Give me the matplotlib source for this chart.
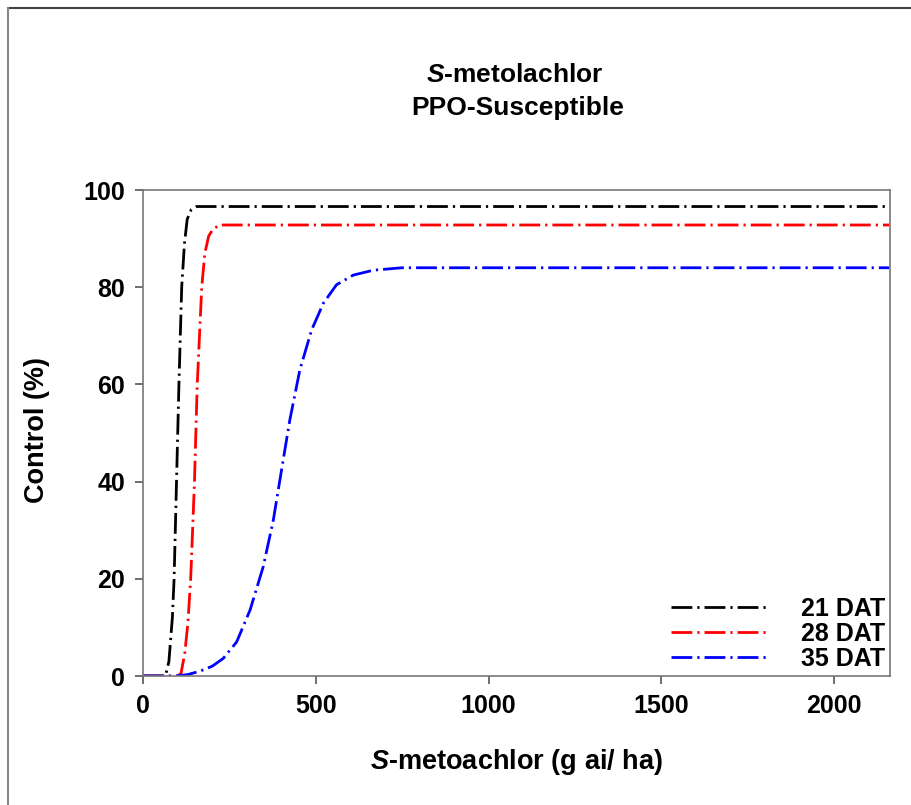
import matplotlib
matplotlib.use("Agg")
import matplotlib.pyplot as plt
from matplotlib.lines import Line2D

plt.rcParams['font.family'] = ['Liberation Sans', 'DejaVu Sans']
plt.rcParams['mathtext.fontset'] = 'custom'
plt.rcParams['mathtext.bfit'] = 'Liberation Sans:italic:bold'

# Data
dose_21 = [0, 65, 75, 85, 90, 97, 104, 112, 120, 128, 140, 155, 2160]
ctrl_21 = [0, 0, 3, 12, 20, 40, 60, 80, 89, 94, 96, 96.6, 96.6]

dose_28 = [0, 100, 110, 121, 130, 138, 149, 157, 170, 179, 190, 203, 223, 2160]
ctrl_28 = [0, 0, 0.5, 4.7, 11, 20, 40, 60, 80, 87, 90.5, 92, 92.8, 92.8]

dose_35 = [0, 93, 130, 165, 200, 232, 271, 310, 348, 377, 401, 425, 454, 488,
           522, 560, 609, 667, 750, 2160]
ctrl_35 = [0, 0, 0.3, 1, 2, 3.6, 7, 13.6, 22.5, 32, 42.4, 52.7, 63, 71.2,
           76.7, 80.5, 82.5, 83.5, 84, 84]

labels = ['21 DAT', '28 DAT', '35 DAT']
colors = ['black', 'red', 'blue']

x_ticks = [0, 500, 1000, 1500, 2000]
y_ticks = [0, 20, 40, 60, 80, 100]

fig = plt.figure(figsize=(9.12, 8.05), dpi=100)
ax = fig.add_axes([143/912, 1-676/805, (890-143)/912, (676-190)/805])

dash = (0, (7.5, 1.8, 0.8, 1.8))
for xs, ys, lab, c in zip([dose_21, dose_28, dose_35], [ctrl_21, ctrl_28, ctrl_35], labels, colors):
    ax.plot(xs, ys, color=c, lw=2.0, linestyle=dash, label=lab)

ax.set_xlim(0, 2162)
ax.set_ylim(0, 100)
ax.set_xticks(x_ticks)
ax.set_yticks(y_ticks)
for s in ax.spines.values():
    s.set_color('#777777')
    s.set_linewidth(1.2)
ax.tick_params(direction='out', length=6, width=1.2, color='#555555',
               labelsize=18, pad=7)
for t in ax.get_xticklabels() + ax.get_yticklabels():
    t.set_fontweight('bold')

fs_lab = 19.5
fig.text(516/912, 1-762/805, r'$\mathbfit{S}$-metoachlor (g ai/ ha)', ha='center', va='center',
         fontsize=fs_lab, fontweight='bold')
fig.text(37/912, 1-430/805, 'Control (%)', ha='center', va='center', rotation=90,
         fontsize=fs_lab, fontweight='bold')

fig.text(515/912, 1-75/805, r'$\mathbfit{S}$-metolachlor', ha='center', va='center',
         fontsize=19, fontweight='bold')
fig.text(518/912, 1-108/805, 'PPO-Susceptible', ha='center', va='center',
         fontsize=19, fontweight='bold')

leg = ax.legend(loc='lower right', frameon=False, fontsize=18, markerfirst=True,
                handlelength=3.9, handletextpad=1.3, labelspacing=0.05,
                borderaxespad=0.2, borderpad=0.0)
for t in leg.get_texts():
    t.set_fontweight('bold')

# figure border
fig.add_artist(Line2D([8/912, 1], [1-8/805, 1-8/805], color='#444444', lw=1.5))
fig.add_artist(Line2D([8/912, 8/912], [0, 1-8/805], color='#888888', lw=1.5))

fig.savefig('out.png', dpi=100)
